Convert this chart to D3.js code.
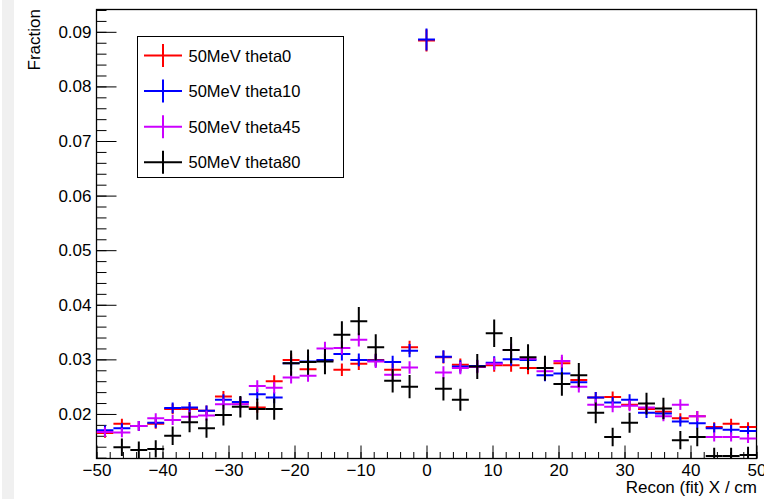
<!DOCTYPE html>
<html>
<head>
<meta charset="utf-8">
<script src="https://cdn.jsdelivr.net/npm/d3@7"></script>
<style>
  html, body { margin: 0; padding: 0; background: #fff; }
  svg { display: block; }
  text { font-family: "Liberation Sans", Arial, Helvetica, sans-serif; fill: #000; }
</style>
</head>
<body>
<svg id="chart" width="764" height="499"></svg>
<script>
// ---- data ----
const binLow = -50, binHigh = 50, nBins = 39;
const seriesNames = ["50MeV theta0", "50MeV theta10", "50MeV theta45", "50MeV theta80"];
const seriesColors = ["#ff0000", "#0000ff", "#cc00ff", "#000000"];
const seriesEvents = [22000, 22000, 22000, 5500]; // used for sqrt(N) error bars

const theta0 = [0.0165,0.0182,0.0178,0.0182,0.0209,0.0209,0.0206,0.0232,0.0221,0.0212,
  0.0260,0.0299,0.0282,0.0298,0.0281,0.0292,0.0299,0.0281,0.0322,0.0884,
  0.0304,0.0290,0.0287,0.0289,0.0289,0.0284,0.0284,0.0293,0.0262,0.0230,
  0.0231,0.0217,0.0209,0.0204,0.0192,0.0196,0.0176,0.0182,0.0176];
const theta10 = [0.0170,0.0174,0.0178,0.0184,0.0211,0.0212,0.0206,0.0226,0.0222,0.0236,
  0.0230,0.0293,0.0296,0.0299,0.0310,0.0299,0.0298,0.0295,0.0316,0.0886,
  0.0305,0.0287,0.0288,0.0294,0.0300,0.0299,0.0271,0.0274,0.0258,0.0230,
  0.0221,0.0226,0.0202,0.0201,0.0186,0.0183,0.0174,0.0171,0.0169];
const theta45 = [0.0167,0.0166,0.0178,0.0192,0.0189,0.0195,0.0197,0.0218,0.0218,0.0251,
  0.0248,0.0267,0.0270,0.0320,0.0321,0.0336,0.0296,0.0272,0.0285,null,
  0.0276,0.0284,0.0286,0.0292,0.0317,0.0301,0.0278,0.0297,0.0250,0.0217,
  0.0213,0.0215,0.0212,0.0196,0.0217,0.0196,0.0158,0.0158,0.0155];
const theta80 = [null,0.0139,0.0134,0.0136,0.0160,0.0185,0.0174,0.0198,0.0213,0.0209,
  0.0209,0.0293,0.0295,0.0296,0.0345,0.0370,0.0322,0.0261,0.0250,null,
  0.0246,0.0226,0.0287,0.0348,0.0317,0.0304,0.0284,0.0255,0.0271,0.0202,
  0.0158,0.0184,0.0219,0.0210,0.0152,0.0158,0.0123,0.0123,0.0125];
const seriesValues = [theta0, theta10, theta45, theta80];

const xTicksMajor = [-50, -40, -30, -20, -10, 0, 10, 20, 30, 40, 50];
const yTicksMajor = [0.02, 0.03, 0.04, 0.05, 0.06, 0.07, 0.08, 0.09];
const xTitle = "Recon (fit) X / cm";
const yTitle = "Fraction";

// ---- layout ----
const svg = d3.select("#chart");
const L = 96.5, R = 756.5, T = 9.5, B = 458.5;
const x = d3.scaleLinear().domain([binLow, binHigh]).range([L, R]);
const y = d3.scaleLinear().domain([0.01184, 0.09409]).range([B, T]);

// light gray strip at left edge
svg.append("rect").attr("x", 2).attr("y", 0).attr("width", 12).attr("height", 499).attr("fill", "#f0f0f0");

// plot background
svg.append("rect").attr("x", L).attr("y", T).attr("width", R - L).attr("height", B - T).attr("fill", "#fff");

svg.append("clipPath").attr("id", "plotclip")
  .append("rect").attr("x", L).attr("y", T).attr("width", R - L).attr("height", B - T);

// ---- axes ----
const minorX = d3.range(binLow, binHigh + 0.001, 2);
const xMinor = d3.axisBottom(x).tickValues(minorX).tickSizeInner(-6.5).tickSizeOuter(0).tickFormat("");
const xMajor = d3.axisBottom(x).tickValues(xTicksMajor).tickSizeInner(-13).tickSizeOuter(0).tickPadding(5)
  .tickFormat(d3.format("d"));
const gxm = svg.append("g").attr("transform", `translate(0,${B})`).call(xMinor);
const gx = svg.append("g").attr("transform", `translate(0,${B})`).call(xMajor);

const minorY = d3.range(0.012, 0.0941, 0.002);
const yMinor = d3.axisLeft(y).tickValues(minorY).tickSizeInner(-10).tickSizeOuter(0).tickFormat("");
const yMajor = d3.axisLeft(y).tickValues(yTicksMajor).tickSizeInner(-20).tickSizeOuter(0).tickPadding(5)
  .tickFormat(d3.format(".2f"));
const gym = svg.append("g").attr("transform", `translate(${L},0)`).call(yMinor);
const gy = svg.append("g").attr("transform", `translate(${L},0)`).call(yMajor);

[gxm, gx, gym, gy].forEach(g => {
  g.select(".domain").remove();
  g.selectAll("line").attr("stroke", "#000").attr("stroke-width", 1);
  g.selectAll("text").attr("font-size", 17).attr("fill", "#000")
    .style("font-family", '"Liberation Sans", Arial, sans-serif');
});

// frame
svg.append("rect").attr("x", L).attr("y", T).attr("width", R - L).attr("height", B - T)
  .attr("fill", "none").attr("stroke", "#000").attr("stroke-width", 1.3);

// axis titles
svg.append("text").attr("x", R + 0.5).attr("y", 493).attr("text-anchor", "end")
  .attr("font-size", 17).text(xTitle);
svg.append("text").attr("transform", "translate(39.5,9) rotate(-90)").attr("text-anchor", "end")
  .attr("font-size", 17).text(yTitle);

// ---- data: histogram markers with error bars ----
const binW = (binHigh - binLow) / nBins;
const plot = svg.append("g").attr("clip-path", "url(#plotclip)");
seriesValues.forEach((vals, si) => {
  const pts = vals.map((v, i) => ({
    lo: binLow + i * binW, hi: binLow + (i + 1) * binW, c: binLow + (i + 0.5) * binW,
    v: v, e: v == null ? 0 : Math.sqrt(v / seriesEvents[si])
  })).filter(d => d.v != null);
  const g = plot.append("g").attr("stroke", seriesColors[si]).attr("stroke-width", 2).attr("fill", "none");
  g.selectAll("line.h").data(pts).join("line").attr("class", "h")
    .attr("x1", d => x(d.lo)).attr("x2", d => x(d.hi))
    .attr("y1", d => y(d.v)).attr("y2", d => y(d.v));
  g.selectAll("line.v").data(pts).join("line").attr("class", "v")
    .attr("x1", d => x(d.c)).attr("x2", d => x(d.c))
    .attr("y1", d => y(d.v - d.e)).attr("y2", d => y(d.v + d.e));
});

// ---- legend ----
const lg = svg.append("g");
lg.append("rect").attr("x", 137.5).attr("y", 36.5).attr("width", 206).attr("height", 141)
  .attr("fill", "#fff").attr("stroke", "#000").attr("stroke-width", 1);
seriesNames.forEach((name, i) => {
  const cy = 55.5 + i * 35.6;
  const row = lg.append("g");
  row.append("line").attr("x1", 144).attr("x2", 182).attr("y1", cy).attr("y2", cy)
    .attr("stroke", seriesColors[i]).attr("stroke-width", 2);
  row.append("line").attr("x1", 163).attr("x2", 163).attr("y1", cy - 11.5).attr("y2", cy + 11.5)
    .attr("stroke", seriesColors[i]).attr("stroke-width", 2);
  row.append("text").attr("x", 188.5).attr("y", cy + 6).attr("font-size", 16.5).text(name);
});
</script>
</body>
</html>
